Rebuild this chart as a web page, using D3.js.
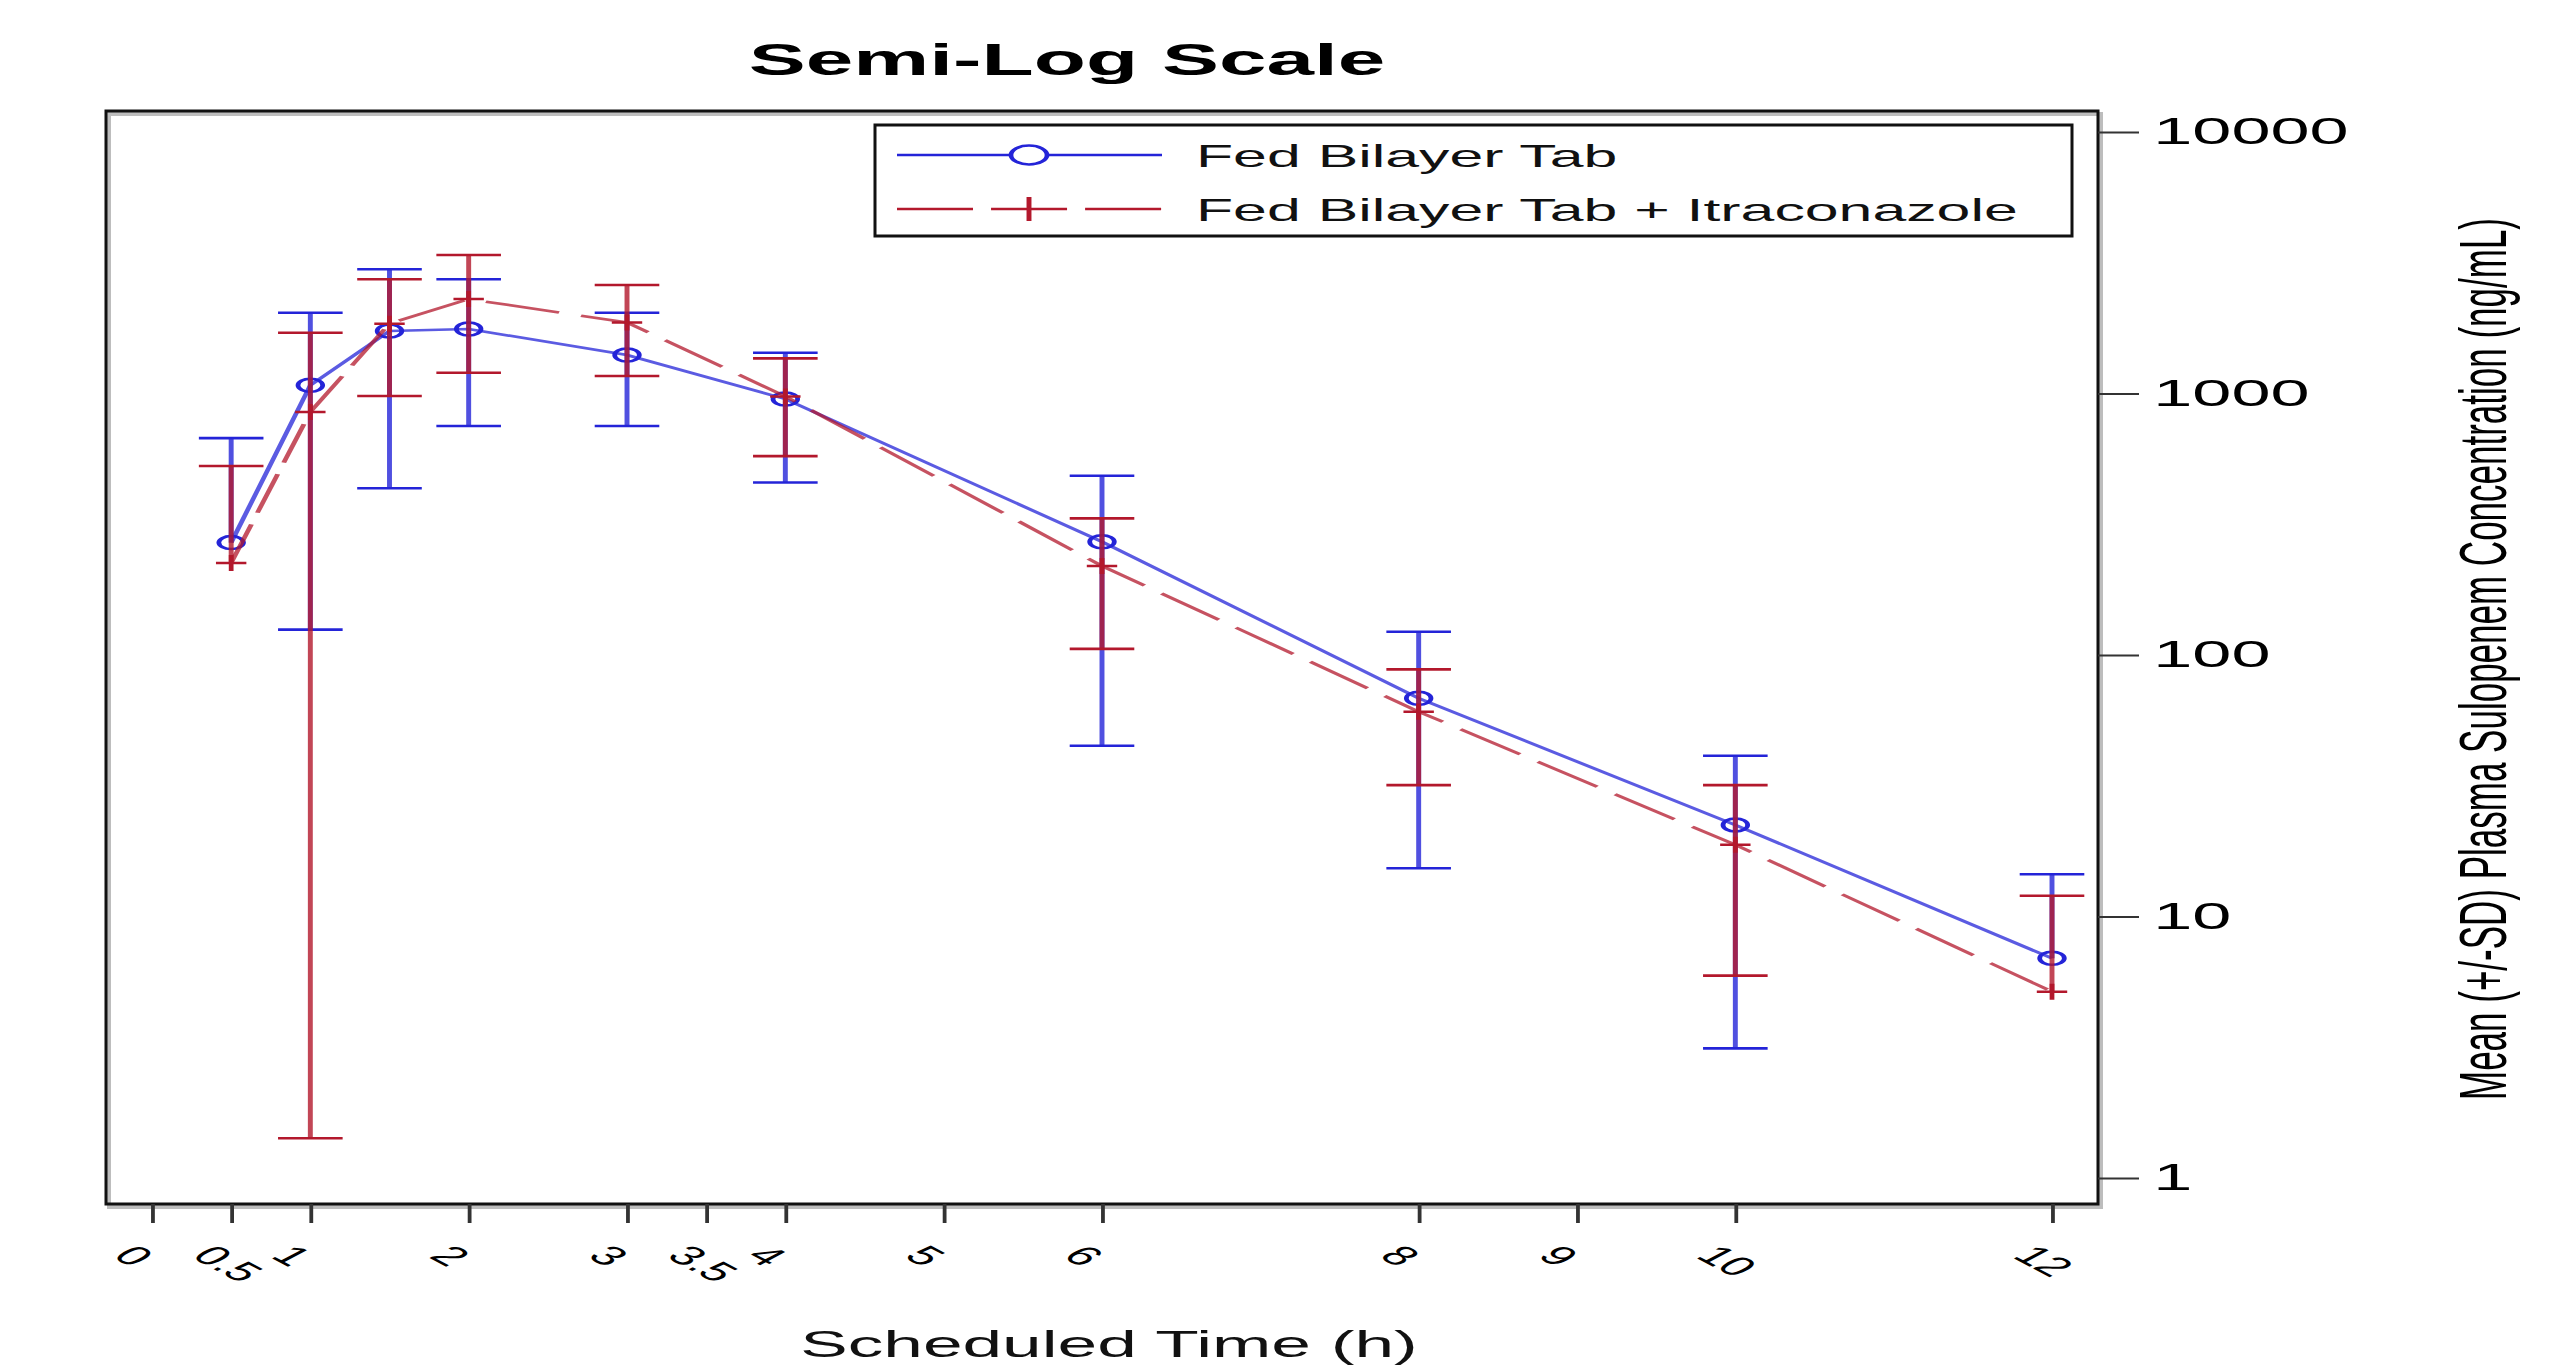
<!DOCTYPE html>
<html>
<head>
<meta charset="utf-8">
<title>Semi-Log Scale</title>
<script src="https://cdn.jsdelivr.net/npm/d3@7"></script>
<style>
    html, body { margin: 0; padding: 0; background: #fff; }
    svg { display: block; font-family: "Liberation Sans", Arial, sans-serif; }
</style>
</head>
<body>
<svg id="chart"></svg>
<script>
// Scheduled sampling times (h)
const times = [0.5, 1, 1.5, 2, 3, 4, 6, 8, 10, 12];

// Fed Bilayer Tab: mean, mean+SD, mean-SD (null = below zero, not drawn on log axis)
const fedMean  = [269, 1075, 1734, 1765, 1403, 953, 271, 68.3, 22.4, 6.92];
const fedUpper = [675, 2037, 2985, 2734, 2037, 1432, 485, 122.7, 41.2, 14.5];
const fedLower = [null, 125, 434, 751, 751, 457, 45, 15.3, 3.13, null];

// Fed Bilayer Tab + Itraconazole
const itraMean  = [225, 850, 1850, 2296, 1870, 975, 219, 60.7, 18.8, 5.16];
const itraUpper = [528, 1708, 2734, 3386, 2600, 1363, 333, 88.1, 31.8, 12.0];
const itraLower = [null, 1.42, 978, 1201, 1167, 576, 105.5, 31.8, 5.94, null];

// Axis ticks
const xTicks = [0, 0.5, 1, 2, 3, 3.5, 4, 5, 6, 8, 9, 10, 12];
const xTickLabels = ['0', '0.5', '1', '2', '3', '3.5', '4', '5', '6', '8', '9', '10', '12'];
const yTicks = [1, 10, 100, 1000, 10000];
const yTickLabels = ['1', '10', '100', '1000', '10000'];

const BLUE = '#2424d8';
const RED = '#b3182c';

const W = 2560, H = 1367;
// the original graphic is stretched horizontally, so everything is drawn in a squeezed frame
const SX = 1.9;
const sx = px => px / SX;

const frame = {left: 106, right: 2098, top: 111, bottom: 1204};

const svg = d3.select('#chart')
    .attr('width', W)
    .attr('height', H);

const g = svg.append('g')
    .attr('transform', `scale(${SX},1)`);

// Scales
const xScale = d3.scaleLinear()
    .domain([0, 12])
    .range([sx(152), sx(2052)]);

const yScale = d3.scaleLog()
    .domain([1, 10000])
    .range([1178, 132]);

// Plot frame (with a grey shadow)
g.append('rect')
    .attr('x', sx(frame.left + 3))
    .attr('y', frame.top + 3)
    .attr('width', sx(frame.right - frame.left))
    .attr('height', frame.bottom - frame.top)
    .attr('fill', 'none')
    .attr('stroke', '#bdbdbd')
    .attr('stroke-width', 4)
    .attr('vector-effect', 'non-scaling-stroke');

g.append('rect')
    .attr('x', sx(frame.left))
    .attr('y', frame.top)
    .attr('width', sx(frame.right - frame.left))
    .attr('height', frame.bottom - frame.top)
    .attr('fill', 'none')
    .attr('stroke', '#111')
    .attr('stroke-width', 3)
    .attr('vector-effect', 'non-scaling-stroke');

// X axis
const xAxis = g.append('g')
    .attr('transform', `translate(0,${frame.bottom})`)
    .call(d3.axisBottom(xScale)
        .tickValues(xTicks)
        .tickFormat((d, i) => xTickLabels[i])
        .tickSize(19)
        .tickSizeOuter(0))
    .attr('font-size', null)
    .attr('font-family', null);

xAxis.select('.domain').remove();
xAxis.selectAll('line')
    .attr('stroke', '#333')
    .attr('stroke-width', 2);
xAxis.selectAll('text')
    .attr('y', 0)
    .attr('dy', null)
    .attr('text-anchor', 'start')
    .attr('transform', 'translate(-22,53) rotate(45)')
    .attr('fill', '#000')
    .style('font-size', '27px');

// Y axis on the right
const yAxis = g.append('g')
    .attr('transform', `translate(${sx(frame.right)},0)`)
    .call(d3.axisRight(yScale)
        .tickValues(yTicks)
        .tickFormat((d, i) => yTickLabels[i])
        .tickSize(sx(41))
        .tickPadding(7.5)
        .tickSizeOuter(0))
    .attr('font-size', null)
    .attr('font-family', null);

yAxis.select('.domain').remove();
yAxis.selectAll('line')
    .attr('stroke', '#333')
    .attr('stroke-width', 2);
yAxis.selectAll('text')
    .attr('fill', '#000')
    .style('font-size', '37px');

// Series
const series = [
    {name: 'Fed Bilayer Tab', mean: fedMean, upper: fedUpper, lower: fedLower, color: BLUE, dash: null, marker: 'circle'},
    {name: 'Fed Bilayer Tab + Itraconazole', mean: itraMean, upper: itraUpper, lower: itraLower, color: RED, dash: '40,12', marker: 'plus'}
];

const capHalf = 17;

series.forEach(s => {
    const pts = times.map((t, i) => ({t: t, mean: s.mean[i], upper: s.upper[i], lower: s.lower[i]}));
    const sg = g.append('g');

    // Error bars
    const bars = sg.selectAll('.bar')
        .data(pts)
        .enter()
        .append('g')
        .attr('class', 'bar')
        .attr('stroke', s.color)
        .attr('stroke-width', 2.6);

    bars.append('line')
        .attr('x1', d => xScale(d.t))
        .attr('x2', d => xScale(d.t))
        .attr('y1', d => yScale(d.upper))
        .attr('y2', d => yScale(d.lower === null ? d.mean : d.lower))
        .attr('stroke-opacity', 0.8);

    bars.append('line')
        .attr('x1', d => xScale(d.t) - capHalf)
        .attr('x2', d => xScale(d.t) + capHalf)
        .attr('y1', d => yScale(d.upper))
        .attr('y2', d => yScale(d.upper));

    bars.filter(d => d.lower !== null)
        .append('line')
        .attr('x1', d => xScale(d.t) - capHalf)
        .attr('x2', d => xScale(d.t) + capHalf)
        .attr('y1', d => yScale(d.lower))
        .attr('y2', d => yScale(d.lower));

    // Mean line
    const line = d3.line()
        .x(d => xScale(d.t))
        .y(d => yScale(d.mean));

    sg.append('path')
        .datum(pts)
        .attr('d', line)
        .attr('fill', 'none')
        .attr('stroke', s.color)
        .attr('stroke-width', 2.6)
        .attr('stroke-opacity', 0.75)
        .attr('stroke-dasharray', s.dash);

    // Markers
    if (s.marker === 'circle') {
        sg.selectAll('.dot')
            .data(pts)
            .enter()
            .append('circle')
            .attr('class', 'dot')
            .attr('cx', d => xScale(d.t))
            .attr('cy', d => yScale(d.mean))
            .attr('r', 6.5)
            .attr('fill', 'none')
            .attr('stroke', s.color)
            .attr('stroke-width', 2.5);
    } else {
        sg.selectAll('.plus')
            .data(pts)
            .enter()
            .append('path')
            .attr('class', 'plus')
            .attr('d', d => {
                const x = xScale(d.t), y = yScale(d.mean);
                return `M${x - 8},${y}H${x + 8}M${x},${y - 8}V${y + 8}`;
            })
            .attr('stroke', s.color)
            .attr('stroke-width', 2.5);
    }
});

// Legend
g.append('rect')
    .attr('x', sx(875))
    .attr('y', 125)
    .attr('width', sx(2072 - 875))
    .attr('height', 111)
    .attr('fill', '#fff')
    .attr('stroke', '#111')
    .attr('stroke-width', 3)
    .attr('vector-effect', 'non-scaling-stroke');

const legendRows = series.map((s, i) => ({...s, y: 155 + i * 54}));
const legend = g.selectAll('.legend-row')
    .data(legendRows)
    .enter()
    .append('g')
    .attr('class', 'legend-row');

legend.append('line')
    .attr('x1', sx(897))
    .attr('x2', sx(1162))
    .attr('y1', d => d.y)
    .attr('y2', d => d.y)
    .attr('stroke', d => d.color)
    .attr('stroke-width', 2.6)
    .attr('stroke-dasharray', d => d.dash ? '40,9.5' : null);

legend.filter(d => d.marker === 'circle')
    .append('circle')
    .attr('cx', sx(1029))
    .attr('cy', d => d.y)
    .attr('r', 9.5)
    .attr('fill', '#fff')
    .attr('stroke', d => d.color)
    .attr('stroke-width', 2.5);

legend.filter(d => d.marker === 'plus')
    .append('path')
    .attr('d', d => `M${sx(1029)},${d.y - 12}V${d.y + 12}`)
    .attr('stroke', d => d.color)
    .attr('stroke-width', 2.6);

legend.append('text')
    .attr('x', sx(1196))
    .attr('y', d => d.y + 12)
    .style('font-size', '32px')
    .attr('fill', '#111')
    .text(d => d.name);

// Titles
g.append('text')
    .attr('x', sx(1067))
    .attr('y', 75)
    .attr('text-anchor', 'middle')
    .style('font-size', '45px')
    .style('font-weight', 'bold')
    .attr('fill', '#000')
    .text('Semi-Log Scale');

g.append('text')
    .attr('x', sx(1109))
    .attr('y', 1357)
    .attr('text-anchor', 'middle')
    .style('font-size', '37.5px')
    .attr('fill', '#111')
    .text('Scheduled Time (h)');

g.append('text')
    .attr('transform', `translate(${sx(2506)},659) rotate(-90)`)
    .attr('text-anchor', 'middle')
    .style('font-size', '35px')
    .attr('fill', '#000')
    .text('Mean (+/-SD) Plasma Sulopenem Concentration (ng/mL)');
</script>
</body>
</html>
